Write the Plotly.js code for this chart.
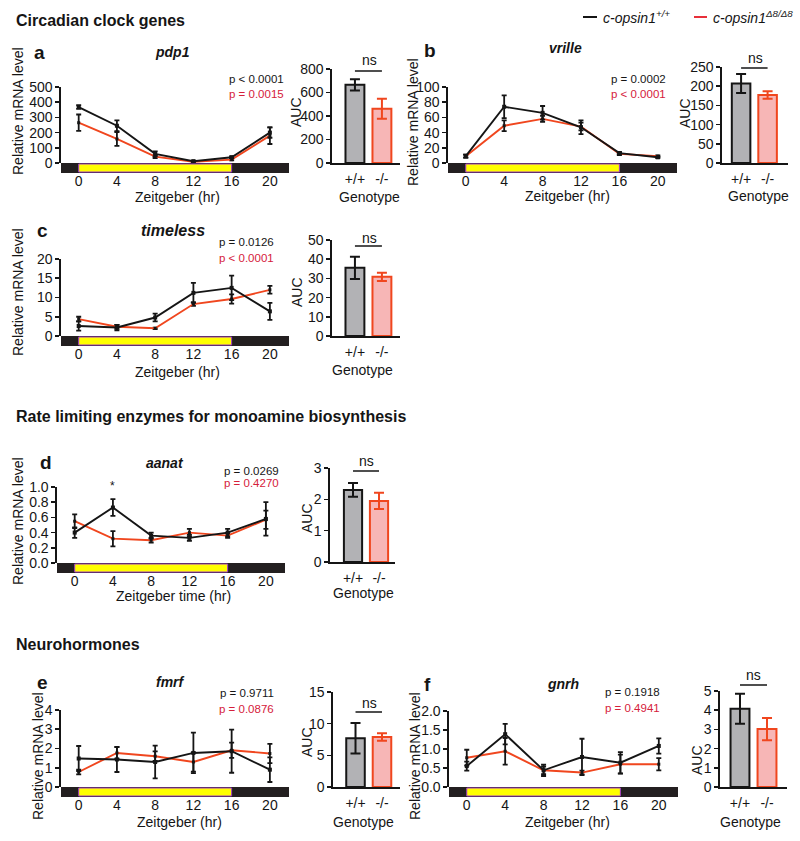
<!DOCTYPE html>
<html>
<head>
<meta charset="utf-8">
<script src="https://cdn.plot.ly/plotly-3.0.1.min.js"></script>
<style>
  html, body { margin: 0; padding: 0; background: #fff; }
  #chart { width: 800px; height: 841px; }
</style>
</head>
<body>
<div id="chart"></div>
<script>
// time points (Zeitgeber hr) and genotype categories
const hours = [0, 4, 8, 12, 16, 20];
const genotypes = ['+/+', '-/-'];
const lightOn = 0, lightOff = 16;

// pdp1
const pdp1Wt = [368, 245, 60, 12, 38, 200];
const pdp1WtErr = [12, 36, 17, 4, 6, 34];
const pdp1Ko = [265, 158, 42, 8, 22, 180];
const pdp1KoErr = [54, 45, 9, 3, 5, 55];
const pdp1Auc = [665, 462];
const pdp1AucErr = [48, 85];

// vrille
const vrilleWt = [9, 74, 66, 47, 13, 7.5];
const vrilleWtErr = [2, 15, 9, 9, 1.5, 1];
const vrilleKo = [9, 49, 58, 48, 12, 9];
const vrilleKoErr = [2, 7, 4, 5, 1.5, 1];
const vrilleAuc = [207, 177];
const vrilleAucErr = [25, 10];

// timeless
const timelessWt = [2.6, 2.2, 4.8, 11.2, 12.5, 6.4];
const timelessWtErr = [1.2, 0.7, 1.0, 2.6, 3.2, 2.2];
const timelessKo = [4.4, 2.4, 2.0, 8.3, 9.6, 12.0];
const timelessKoErr = [0.6, 0.5, 0.2, 0.5, 1.2, 1.0];
const timelessAuc = [35.5, 30.8];
const timelessAucErr = [5.8, 2.1];

// aanat
const aanatWt = [0.40, 0.73, 0.36, 0.33, 0.40, 0.58];
const aanatWtErr = [0.07, 0.11, 0.04, 0.04, 0.05, 0.22];
const aanatKo = [0.55, 0.32, 0.30, 0.40, 0.36, 0.57];
const aanatKoErr = [0.09, 0.10, 0.03, 0.05, 0.03, 0.12];
const aanatAuc = [2.30, 1.95];
const aanatAucErr = [0.22, 0.26];

// fmrf
const fmrfWt = [1.48, 1.43, 1.30, 1.77, 1.86, 0.90];
const fmrfWtErr = [0.65, 0.65, 0.85, 1.05, 1.12, 0.64];
const fmrfKo = [0.78, 1.77, 1.60, 1.30, 1.91, 1.74];
const fmrfKoErr = [0.12, 0.30, 0.25, 0.50, 0.40, 0.50];
const fmrfAuc = [7.7, 7.9];
const fmrfAucErr = [2.4, 0.6];

// gnrh
const gnrhWt = [0.55, 1.39, 0.44, 0.79, 0.64, 1.08];
const gnrhWtErr = [0.12, 0.27, 0.15, 0.48, 0.28, 0.20];
const gnrhKo = [0.77, 0.94, 0.44, 0.38, 0.60, 0.60];
const gnrhKoErr = [0.21, 0.35, 0.10, 0.05, 0.25, 0.16];
const gnrhAuc = [4.08, 3.02];
const gnrhAucErr = [0.78, 0.58];

const F = 'Liberation Sans, Arial, Helvetica, sans-serif';
const BLACK = '#151515';
const RED = '#f0461e';
const PTEXT = '#d5203a';
const W = 800, H = 841;
const px = v => v / W;
const py = v => 1 - v / H;

const data = [];
const shapes = [];
const annotations = [];
const layout = {
  width: W, height: H,
  margin: {l: 0, r: 0, t: 0, b: 0, pad: 0, autoexpand: false},
  paper_bgcolor: 'white', plot_bgcolor: 'rgba(0,0,0,0)',
  showlegend: false, barmode: 'overlay',
  font: {family: F, size: 14, color: BLACK}
};

// paper text placed by pixel position (centre anchored unless told otherwise)
function txt(x, y, text, size, extra) {
  const a = {xref: 'paper', yref: 'paper', x: px(x), y: py(y), text: text,
    xanchor: 'center', yanchor: 'middle',
    showarrow: false, font: {family: F, size: size || 14, color: BLACK}};
  if (extra) {
    for (const k in extra) {
      if (k === 'font') Object.assign(a.font, extra.font); else a[k] = extra[k];
    }
  }
  annotations.push(a);
}

function axisName(i, c) { return c + 'axis' + (i === 1 ? '' : i); }
function ref(i, c) { return c + (i === 1 ? '' : i); }

function yAxisCfg(top, bot, max, dtick, fmt) {
  return {
    domain: [py(bot), py(top)], range: [0, max], dtick: dtick, tick0: 0,
    tickformat: fmt || '', showline: true, linecolor: BLACK, linewidth: 1.6,
    ticks: 'outside', ticklen: 4, tickwidth: 1.6, tickcolor: BLACK,
    showgrid: false, zeroline: false, tickfont: {family: F, size: 14, color: BLACK}
  };
}

function linePanel(i, p, wt, wtErr, ko, koErr) {
  data.push({
    x: hours, y: ko, xaxis: ref(i, 'x'), yaxis: ref(i, 'y'), type: 'scatter',
    mode: 'lines+markers', line: {color: RED, width: 1.9},
    marker: {color: BLACK, size: 3, symbol: 'square'},
    error_y: {type: 'data', array: koErr, color: BLACK, thickness: 1.8, width: 2.5},
    cliponaxis: false
  });
  data.push({
    x: hours, y: wt, xaxis: ref(i, 'x'), yaxis: ref(i, 'y'), type: 'scatter',
    mode: 'lines+markers', line: {color: BLACK, width: 1.9},
    marker: {color: BLACK, size: 4, symbol: 'square'},
    error_y: {type: 'data', array: wtErr, color: BLACK, thickness: 1.8, width: 2.5},
    cliponaxis: false
  });
  layout[axisName(i, 'x')] = {
    domain: [px(p.x0), px(p.x1)], range: [-1.85, 22], tickvals: hours,
    anchor: ref(i, 'y'), showline: false, showgrid: false, zeroline: false,
    ticks: 'outside', ticklen: 5, tickcolor: 'rgba(0,0,0,0)',
    tickfont: {family: F, size: 14, color: BLACK}
  };
  layout[axisName(i, 'y')] = Object.assign(
    yAxisCfg(p.top, p.bot, p.max, p.dtick, p.fmt), {anchor: ref(i, 'x')});

  // light/dark band under the axis
  shapes.push({type: 'rect', xref: ref(i, 'x') + ' domain', yref: 'paper',
    x0: 0, x1: 1, y0: py(p.bot + 10), y1: py(p.bot),
    fillcolor: '#231f20', line: {width: 0}});
  shapes.push({type: 'rect', xref: ref(i, 'x'), yref: 'paper',
    x0: lightOn, x1: lightOff, y0: py(p.bot + 9), y1: py(p.bot + 1),
    fillcolor: '#ffff00', line: {color: '#a23cc8', width: 1}});
}

function barPanel(i, p, auc, aucErr) {
  data.push({
    x: [0], y: [auc[0]], xaxis: ref(i, 'x'), yaxis: ref(i, 'y'), type: 'bar', width: 0.7,
    marker: {color: '#b2b2b5', line: {color: BLACK, width: 2}},
    error_y: {type: 'data', array: [aucErr[0]], color: BLACK, thickness: 2, width: 5}
  });
  data.push({
    x: [1], y: [auc[1]], xaxis: ref(i, 'x'), yaxis: ref(i, 'y'), type: 'bar', width: 0.7,
    marker: {color: '#f7b6b6', line: {color: RED, width: 2}},
    error_y: {type: 'data', array: [aucErr[1]], color: RED, thickness: 2, width: 5}
  });
  layout[axisName(i, 'x')] = {
    domain: [px(p.x0), px(p.x1)], range: p.range, tickvals: [0, 1], ticktext: genotypes,
    anchor: ref(i, 'y'), showline: true, linecolor: BLACK, linewidth: 1.6,
    showgrid: false, zeroline: false, ticks: 'outside', ticklen: 3,
    tickcolor: 'rgba(0,0,0,0)', tickfont: {family: F, size: 14, color: BLACK}
  };
  layout[axisName(i, 'y')] = Object.assign(
    yAxisCfg(p.top, p.bot, p.max, p.dtick), {anchor: ref(i, 'x')});
  // ns bracket
  shapes.push({type: 'line', xref: ref(i, 'x'), yref: 'paper', x0: 0, x1: 1,
    y0: py(p.nsLine), y1: py(p.nsLine), line: {color: BLACK, width: 1.5}});
  txt(p.nsX, p.nsY, 'ns', 14);
}

function labels(o) {
  txt(o.letter[0], o.letter[1], '<b>' + o.letter[2] + '</b>', 19, {xanchor: 'left'});
  txt(o.gene[0], o.gene[1], '<b><i>' + o.gene[2] + '</i></b>', o.gene[3] || 14);
  txt(o.pv[0], o.pv[1], o.pv[3], 11.5, {xanchor: 'right'});
  txt(o.pv[0], o.pv[2], o.pv[4], 11.5, {xanchor: 'right', font: {color: PTEXT}});
  txt(o.ytitle[0], o.ytitle[1], 'Relative mRNA level', 14, {textangle: -90});
  txt(o.xtitle[0], o.xtitle[1], o.xtitle[2] || 'Zeitgeber (hr)', 14);
  txt(o.auc[0], o.auc[1], 'AUC', 14, {textangle: -90});
  txt(o.geno[0], o.geno[1], 'Genotype', 14);
}

// a: pdp1
linePanel(1, {x0: 61, x1: 289, top: 87, bot: 163, max: 500, dtick: 100}, pdp1Wt, pdp1WtErr, pdp1Ko, pdp1KoErr);
barPanel(2, {x0: 332, x1: 400, range: [-0.85, 1.67], top: 69, bot: 163, max: 800, dtick: 200,
  nsLine: 71, nsX: 369, nsY: 60}, pdp1Auc, pdp1AucErr);
labels({letter: [32, 52, 'a'], gene: [172, 52, 'pdp1'], pv: [286, 79, 94, 'p < 0.0001', 'p = 0.0015'],
  ytitle: [18, 111], xtitle: [177, 197], auc: [296, 112], geno: [369, 197]});

// b: vrille
linePanel(3, {x0: 448, x1: 677, top: 87, bot: 163, max: 100, dtick: 20}, vrilleWt, vrilleWtErr, vrilleKo, vrilleKoErr);
barPanel(4, {x0: 722, x1: 788, range: [-0.72, 1.77], top: 67, bot: 163, max: 250, dtick: 50,
  nsLine: 68, nsX: 755, nsY: 58}, vrilleAuc, vrilleAucErr);
labels({letter: [422, 50, 'b'], gene: [565, 48, 'vrille'], pv: [668, 79, 94, 'p = 0.0002', 'p < 0.0001'],
  ytitle: [413, 122], xtitle: [567, 196], auc: [685, 113], geno: [758, 196]});

// c: timeless
linePanel(5, {x0: 61, x1: 289, top: 259, bot: 336, max: 20, dtick: 5}, timelessWt, timelessWtErr, timelessKo, timelessKoErr);
barPanel(6, {x0: 332, x1: 400, range: [-0.85, 1.67], top: 240, bot: 336, max: 50, dtick: 10,
  nsLine: 246, nsX: 369, nsY: 238}, timelessAuc, timelessAucErr);
labels({letter: [35, 230, 'c'], gene: [173, 230, 'timeless', 16], pv: [276, 242, 258, 'p = 0.0126', 'p < 0.0001'],
  ytitle: [18, 292], xtitle: [177, 372], auc: [297, 292], geno: [362, 370]});

// d: aanat
linePanel(7, {x0: 57, x1: 285, top: 487, bot: 563, max: 1.0, dtick: 0.2, fmt: '.1f'}, aanatWt, aanatWtErr, aanatKo, aanatKoErr);
barPanel(8, {x0: 330, x1: 395, range: [-0.885, 1.615], top: 468, bot: 562, max: 3, dtick: 1,
  nsLine: 471, nsX: 366, nsY: 461}, aanatAuc, aanatAucErr);
labels({letter: [38, 463, 'd'], gene: [165, 463, 'aanat'], pv: [281, 471, 483, 'p = 0.0269', 'p = 0.4270'],
  ytitle: [18, 521], xtitle: [173, 596, 'Zeitgeber time (hr)'], auc: [307, 518], geno: [363, 593]});
annotations.push({xref: 'x7', yref: 'y7', x: 4, y: 0.9, text: '*', showarrow: false,
  yanchor: 'bottom', font: {family: F, size: 12, color: BLACK}});

// e: fmrf
linePanel(9, {x0: 61, x1: 289, top: 710, bot: 787, max: 4, dtick: 1}, fmrfWt, fmrfWtErr, fmrfKo, fmrfKoErr);
barPanel(10, {x0: 333, x1: 400, range: [-0.85, 1.68], top: 692, bot: 787, max: 15, dtick: 5,
  nsLine: 712, nsX: 369, nsY: 703}, fmrfAuc, fmrfAucErr);
labels({letter: [35, 682, 'e'], gene: [170, 682, 'fmrf'], pv: [276, 693, 709, 'p = 0.9711', 'p = 0.0876'],
  ytitle: [38, 756], xtitle: [179, 822], auc: [307, 742], geno: [363, 822]});

// f: gnrh
linePanel(11, {x0: 449, x1: 678, top: 711, bot: 787, max: 2.0, dtick: 0.5, fmt: '.1f'}, gnrhWt, gnrhWtErr, gnrhKo, gnrhKoErr);
barPanel(12, {x0: 720, x1: 787, range: [-0.74, 1.74], top: 691, bot: 787, max: 5, dtick: 1,
  nsLine: 685, nsX: 753, nsY: 675}, gnrhAuc, gnrhAucErr);
labels({letter: [422, 684, 'f'], gene: [563, 684, 'gnrh'], pv: [662, 692, 708, 'p = 0.1918', 'p = 0.4941'],
  ytitle: [415, 756], xtitle: [567, 822], auc: [697, 760], geno: [750, 822]});

// section headings
txt(14, 20, '<b>Circadian clock genes</b>', 16, {xanchor: 'left'});
txt(14, 416, '<b>Rate limiting enzymes for monoamine biosynthesis</b>', 16, {xanchor: 'left'});
txt(14, 644, '<b>Neurohormones</b>', 16, {xanchor: 'left'});

// legend
shapes.push({type: 'line', xref: 'paper', yref: 'paper', x0: px(583), x1: px(597), y0: py(17), y1: py(17),
  line: {color: BLACK, width: 2}});
txt(601, 17, '<i>c-opsin1<sup>+/+</sup></i>', 14, {xanchor: 'left'});
shapes.push({type: 'line', xref: 'paper', yref: 'paper', x0: px(694), x1: px(707), y0: py(17), y1: py(17),
  line: {color: '#e8303a', width: 2}});
txt(711, 17, '<i>c-opsin1<sup>\u03948/\u03948</sup></i>', 14, {xanchor: 'left'});

layout.shapes = shapes;
layout.annotations = annotations;

Plotly.newPlot('chart', data, layout, {displayModeBar: false, staticPlot: true});
</script>
</body>
</html>
